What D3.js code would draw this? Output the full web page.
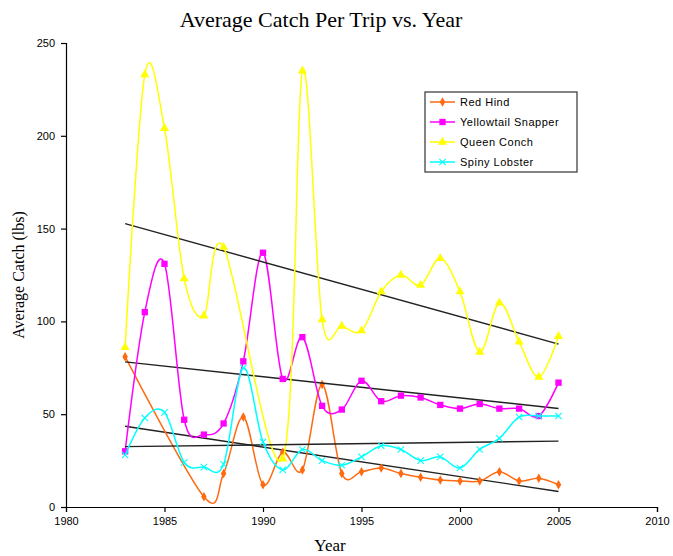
<!DOCTYPE html>
<html>
<head>
<meta charset="utf-8">
<script src="https://cdn.jsdelivr.net/npm/d3@7"></script>
<style>
  body { margin: 0; background: #fff; }
  text { fill: #000; }
</style>
</head>
<body>
<svg id="chart" width="673" height="556"></svg>
<script>
// data (null = no point, line is joined across)
const years = d3.range(1983, 2006)
const redHind = [81, null, null, null, 5.5, 18, 48.5, 12, 29.5, 20, 66, 18, 19, 21, 18, 16, 14.5, 14, 14, 19, 14, 15.5, 12]
const yellowtailSnapper = [30, 105, 131, 47, 39, 45, 78.5, 137, 69, 91.5, 54.5, 52.5, 68, 57, 60, 59, 55, 53, 55.5, 53, 53, 49, 67]
const queenConch = [86, 233, 204, 123, 103, 140, null, null, 26, 235, 101, 97.5, 95, 116, 125, 119.5, 134, 116, 83.5, 110, 89, 70, 92]
const spinyLobster = [28, 48, 51, 24, 21.5, 23, 75, 35, 20, 31, 25, 22.5, 27, 33, 31, 25, 27, 21, 31, 37, 48.5, 49, 49]
const seriesNames = ['Red Hind', 'Yellowtail Snapper', 'Queen Conch', 'Spiny Lobster']
const seriesValues = [redHind, yellowtailSnapper, queenConch, spinyLobster]
const seriesColors = ['#ff6a10', '#ff00ff', '#ffff00', '#00ffff']
const xTicks = [1980, 1985, 1990, 1995, 2000, 2005, 2010]
const yTicks = [0, 50, 100, 150, 200, 250]

// marker shape per series: diamond, square, triangle, x
const markers = [
  { type: d3.symbolDiamond, size: 26, filled: true },
  { type: d3.symbolSquare, size: 40, filled: true },
  { type: d3.symbolTriangle, size: 36, filled: true },
  { type: d3.symbolTimes, size: 28, filled: false }
]

const svg = d3.select('#chart')
const LEFT = 66, RIGHT = 657, TOP = 43, BOTTOM = 507

const x = d3.scaleLinear().domain([1980, 2010]).range([LEFT, RIGHT])
const y = d3.scaleLinear().domain([0, 250]).range([BOTTOM, TOP])

function drawMarker(sel, i) {
  const m = markers[i]
  sel.attr('d', d3.symbol(m.type, m.size))
    .attr('fill', m.filled ? seriesColors[i] : 'none')
    .attr('stroke', m.filled ? 'none' : seriesColors[i])
    .attr('stroke-width', 1.1)
}

// title
svg.append('text')
  .attr('x', 321).attr('y', 27)
  .attr('text-anchor', 'middle')
  .style('font-family', '"Liberation Serif", serif')
  .style('font-size', '22px')
  .text('Average Catch Per Trip vs. Year')

// axes
const yAxis = svg.append('g')
  .attr('transform', `translate(${LEFT},0)`)
  .call(d3.axisLeft(y).tickValues(yTicks).tickSize(5).tickPadding(6))
const xAxis = svg.append('g')
  .attr('transform', `translate(0,${BOTTOM})`)
  .call(d3.axisBottom(x).tickValues(xTicks).tickFormat(d3.format('d')).tickSize(5).tickPadding(5))
for (const g of [xAxis, yAxis]) {
  g.selectAll('text').style('font-family', '"Liberation Sans", Arial, sans-serif').style('font-size', '11px')
  g.selectAll('path, line').attr('stroke', '#000').attr('stroke-width', 1.2)
}

svg.append('text')
  .attr('transform', 'translate(24,275) rotate(-90)')
  .attr('text-anchor', 'middle')
  .style('font-family', '"Liberation Serif", serif')
  .style('font-size', '16px')
  .text('Average Catch (lbs)')
svg.append('text')
  .attr('x', 330).attr('y', 551)
  .attr('text-anchor', 'middle')
  .style('font-family', '"Liberation Serif", serif')
  .style('font-size', '17px')
  .text('Year')

const line = d3.line()
  .x(d => x(d[0]))
  .y(d => y(d[1]))
  .curve(d3.curveCatmullRom.alpha(0))

seriesValues.forEach((vals, i) => {
  const pts = years.map((yr, j) => [yr, vals[j]]).filter(d => d[1] != null)

  // linear trend line, like the spreadsheet's
  const mx = d3.mean(pts, d => d[0]), my = d3.mean(pts, d => d[1])
  const slope = d3.sum(pts, d => (d[0] - mx) * (d[1] - my)) / d3.sum(pts, d => (d[0] - mx) ** 2)
  const fit = yr => my + slope * (yr - mx)
  svg.append('line')
    .attr('x1', x(1983)).attr('y1', y(fit(1983)))
    .attr('x2', x(2005)).attr('y2', y(fit(2005)))
    .attr('stroke', '#222').attr('stroke-width', 1.4)

  svg.append('path')
    .datum(pts)
    .attr('d', line)
    .attr('fill', 'none')
    .attr('stroke', seriesColors[i])
    .attr('stroke-width', 1.5)

  svg.append('g').selectAll('path')
    .data(pts)
    .join('path')
    .attr('transform', d => `translate(${x(d[0])},${y(d[1])})`)
    .call(drawMarker, i)
})

// legend
const legend = svg.append('g').attr('transform', 'translate(425,92)')
legend.append('rect')
  .attr('width', 152).attr('height', 80)
  .attr('fill', '#fff').attr('stroke', '#333').attr('stroke-width', 1.2)
seriesNames.forEach((name, i) => {
  const ly = 10 + i * 20
  legend.append('line')
    .attr('x1', 5).attr('x2', 30).attr('y1', ly).attr('y2', ly)
    .attr('stroke', seriesColors[i]).attr('stroke-width', 1.5)
  legend.append('path')
    .attr('transform', `translate(17.5,${ly})`)
    .call(drawMarker, i)
  legend.append('text')
    .attr('x', 35).attr('y', ly + 4)
    .style('font-family', '"Liberation Sans", Arial, sans-serif')
    .style('font-size', '11px')
    .style('letter-spacing', '0.5px')
    .text(name)
})
</script>
</body>
</html>
